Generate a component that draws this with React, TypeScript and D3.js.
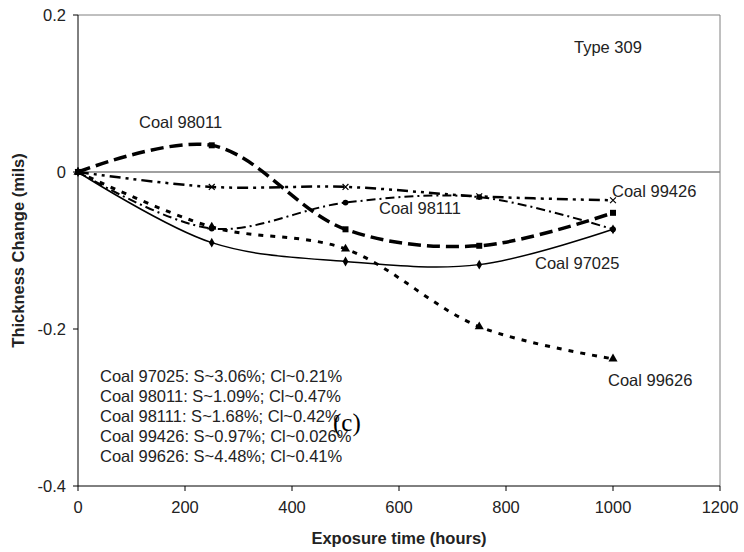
import * as d3 from "d3";

const hours = [0, 250, 500, 750, 1000];
const coal97025 = [0, -0.09, -0.114, -0.118, -0.073];
const coal98011 = [0, 0.034, -0.073, -0.094, -0.052];
const coal98111 = [0, -0.072, -0.039, -0.032, -0.073];
const coal99426 = [0, -0.019, -0.019, -0.031, -0.036];
const coal99626 = [0, -0.07, -0.098, -0.197, -0.238];

const xTicks = [0, 200, 400, 600, 800, 1000, 1200];
const yTicks = [0.2, 0, -0.2, -0.4];
const yTickLabels = ["0.2", "0", "-0.2", "-0.4"];

const notes = [
  "Coal 97025: S~3.06%; Cl~0.21%",
  "Coal 98011: S~1.09%; Cl~0.47%",
  "Coal 98111: S~1.68%; Cl~0.42%",
  "Coal 99426: S~0.97%; Cl~0.026%",
  "Coal 99626: S~4.48%; Cl~0.41%",
];

const width = 744;
const height = 552;
const left = 78;
const right = 720;
const top = 15;
const bottom = 486;
const font = "Arial, 'Liberation Sans', sans-serif";

const x = d3.scaleLinear([0, 1200], [left, right]);
const y = d3.scaleLinear([-0.4, 0.2], [bottom, top]);

const series = [
  { name: "Coal 97025", values: coal97025, dash: "none", w: 1.5, symbol: d3.symbolDiamond, size: 28 },
  { name: "Coal 98011", values: coal98011, dash: "13 6", w: 3.5, symbol: d3.symbolSquare, size: 36 },
  { name: "Coal 98111", values: coal98111, dash: "9 4 2 4", w: 2, symbol: d3.symbolCircle, size: 26 },
  { name: "Coal 99426", values: coal99426, dash: "11 5 3 5 3 5", w: 2.5, symbol: d3.symbolX, size: 24 },
  { name: "Coal 99626", values: coal99626, dash: "5 7", w: 3, symbol: d3.symbolTriangle, size: 36 },
];

// labels placed next to the curves
const curveLabels = [
  { text: "Coal 98011", x: 139, y: 128 },
  { text: "Coal 99426", x: 612, y: 197 },
  { text: "Coal 98111", x: 379, y: 214 },
  { text: "Coal 97025", x: 535, y: 269 },
  { text: "Coal 99626", x: 608, y: 386 },
];

const line = d3
  .line<number>()
  .x((d, i) => x(hours[i]))
  .y((d) => y(d))
  .curve(d3.curveCatmullRom.alpha(0.5));

const App = () => {
  return (
    <svg
      width={width}
      height={height}
      style={{ position: "absolute", left: 0, top: 0, background: "#fff" }}
      fontFamily={font}
    >
      {/* plot frame */}
      <line x1={left} x2={right} y1={top} y2={top} stroke="#808080" />
      <line x1={right} x2={right} y1={top} y2={bottom} stroke="#808080" />
      <line x1={left} x2={right} y1={y(0)} y2={y(0)} stroke="#808080" strokeWidth={1.5} />
      <line x1={left} x2={left} y1={top} y2={bottom} stroke="#000" />
      <line x1={left} x2={right} y1={bottom} y2={bottom} stroke="#000" />

      {yTicks.map((t, i) => (
        <g key={t}>
          <line x1={left - 5} x2={left} y1={y(t)} y2={y(t)} stroke="#000" />
          <text x={66} y={y(t) + 6} textAnchor="end" fontSize={16.5} fill="#222">
            {yTickLabels[i]}
          </text>
        </g>
      ))}
      {xTicks.map((t) => (
        <g key={t}>
          <line x1={x(t)} x2={x(t)} y1={bottom} y2={bottom + 5} stroke="#000" />
          <text x={x(t)} y={bottom + 27} textAnchor="middle" fontSize={16.5} fill="#222">
            {t}
          </text>
        </g>
      ))}

      <text x={(left + right) / 2} y={544} textAnchor="middle" fontSize={16.5} fontWeight="bold" fill="#222">
        Exposure time (hours)
      </text>
      <text
        transform={`translate(24, ${(top + bottom) / 2}) rotate(-90)`}
        textAnchor="middle"
        fontSize={16.5}
        fontWeight="bold"
        fill="#222"
      >
        Thickness Change (mils)
      </text>

      {series.map((s) => (
        <g key={s.name}>
          <path d={line(s.values)!} fill="none" stroke="#000" strokeWidth={s.w} strokeDasharray={s.dash} />
          {s.values.map((v, i) => (
            <path
              key={i}
              d={d3.symbol(s.symbol, s.size)()!}
              transform={`translate(${x(hours[i])},${y(v)})`}
              fill={s.symbol === d3.symbolX ? "none" : "#000"}
              stroke="#000"
              strokeWidth={s.symbol === d3.symbolX ? 1.2 : 0}
            />
          ))}
        </g>
      ))}

      {curveLabels.map((l) => (
        <text key={l.text} x={l.x} y={l.y} fontSize={16.5} fill="#222">
          {l.text}
        </text>
      ))}
      <text x={574} y={53} fontSize={16.5} fill="#222">
        Type 309
      </text>

      {notes.map((n, i) => (
        <text key={n} x={100} y={382 + i * 20} fontSize={16.5} fill="#222">
          {n}
        </text>
      ))}
      <text x={333} y={431} fontSize={25} fontFamily="'Liberation Serif', 'Times New Roman', serif" fill="#000">
        (c)
      </text>
    </svg>
  );
};

export default App;
